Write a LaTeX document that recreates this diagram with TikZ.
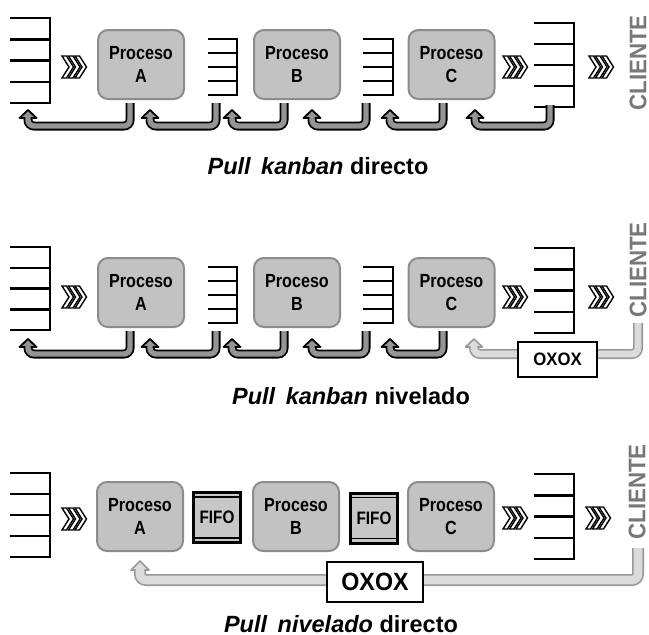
\documentclass[tikz,border=0pt]{standalone}
\usepackage{fontspec}
\setmainfont{Liberation Sans}
\newfontfamily\narrowA[FakeStretch=0.85]{Liberation Sans}
\newfontfamily\narrowB[FakeStretch=0.93]{Liberation Sans}
\definecolor{procfill}{gray}{0.76}
\definecolor{procline}{gray}{0.55}
\definecolor{tubedark}{gray}{0.58}
\definecolor{tubelight}{gray}{0.86}
\definecolor{tubelightline}{gray}{0.6}
\definecolor{fifofill}{gray}{0.78}
\definecolor{clientecol}{gray}{0.47}
\newcommand{\stock}[4]{%
  \draw[stockline] (#1,#3) -- (#2,#3) -- (#2,#4) -- (#1,#4);
  \foreach \k in {1,2,3} \draw[stockline] (#1,{#3+\k*(#4-#3)/4}) -- (#2,{#3+\k*(#4-#3)/4});
}
\newcommand{\chev}[2]{%
  \foreach \i in {0,1,2}
    \draw[chevstyle] ({#1-12+6.5*\i},{#2-11}) -- ({#1-7.5+6.5*\i},{#2-11}) -- ({#1-0.5+6.5*\i},#2)
      -- ({#1-7.5+6.5*\i},{#2+11}) -- ({#1-12+6.5*\i},{#2+11}) -- ({#1-5+6.5*\i},#2) -- cycle;
}
\newcommand{\tube}[8]{%
  \draw[#1out] (#2,#3) -- (#2,#4) -- (#5,#4) -- (#5,{#6+#8});
  \draw[#1head] (#5,#6) -- ({#5+#7},{#6+#8}) -- ({#5-#7},{#6+#8}) -- cycle;
  \draw[#1in] (#2,#3) -- (#2,#4) -- (#5,#4) -- (#5,{#6+#8-1.6});
}
\begin{document}
\begin{tikzpicture}[x=1pt,y=-1pt,
  proc/.style={draw=procline, line width=2pt, fill=procfill, rounded corners=10pt,
    minimum width=86pt, minimum height=69pt, align=center, inner sep=0pt,
    font=\narrowA\fontsize{19}{23}\selectfont\bfseries},
  stockline/.style={line width=2.5pt, draw=black},
  chevstyle/.style={draw=black, fill=white, line width=1.4pt, line join=miter},
  dkout/.style={draw=black, line width=9pt, rounded corners=6pt},
  dkin/.style={draw=tubedark, line width=5.4pt, rounded corners=6pt},
  dkhead/.style={draw=black, fill=tubedark, line width=1.8pt, line join=round},
  ltout/.style={draw=tubelightline, line width=10pt, rounded corners=6pt},
  ltin/.style={draw=tubelight, line width=6.8pt, rounded corners=6pt},
  lthead/.style={draw=tubelightline, fill=tubelight, line width=1.6pt, line join=round},
  Ltout/.style={draw=tubelightline, line width=12pt, rounded corners=6pt},
  Ltin/.style={draw=tubelight, line width=8.6pt, rounded corners=6pt},
  Lthead/.style={draw=tubelightline, fill=tubelight, line width=1.7pt, line join=round},
  cliente/.style={rotate=90, text=clientecol, font=\narrowB\fontsize{24}{24}\selectfont\bfseries, inner sep=0pt},
  caption/.style={font=\fontsize{23.5}{23.5}\selectfont\bfseries, inner sep=0pt},
  fifo/.style={draw=black, line width=3pt, fill=fifofill, minimum width=47pt, minimum height=50pt,
    inner sep=0pt, font=\narrowA\fontsize{18}{18}\selectfont\bfseries},
  oxox/.style={draw=black, line width=1.2pt, fill=white, inner sep=0pt}
]
\useasboundingbox (0,0) rectangle (649,635);

% ---------------- Row 1 ----------------
\stock{10}{50}{18}{103}
\stock{208}{237}{39}{95}
\stock{363}{393}{39}{95}
\stock{534}{574}{23}{107}
\chev{74}{67}
\chev{515}{67}
\chev{601}{67}
\node[proc] (pA1) at (141,64.5) {Proceso\\A};
\node[proc] (pB1) at (297,64.5) {Proceso\\B};
\node[proc] (pC1) at (451.5,64.5) {Proceso\\C};
\node[cliente] (cl1) at (638,63) {CLIENTE};
\tube{dk}{130}{103}{126}{28}{110}{8.5}{8}
\tube{dk}{216}{103}{126}{150}{110}{8.5}{8}
\tube{dk}{284}{103}{126}{232}{110}{8.5}{8}
\tube{dk}{366}{103}{126}{312}{110}{8.5}{8}
\tube{dk}{443}{103}{126}{390}{110}{8.5}{8}
\tube{dk}{550}{105}{126}{475}{110}{8.5}{8}
\node[caption] (cap1) at (318,166) {\itshape Pull\hspace{0.45em}kanban\upshape\ directo};

% ---------------- Row 2 ----------------
\stock{10}{50}{247}{330}
\stock{208}{237}{267}{323}
\stock{363}{393}{267}{323}
\stock{534}{574}{248}{333}
\chev{74}{297}
\chev{515}{297}
\chev{601}{297}
\node[proc] (pA2) at (141,292.5) {Proceso\\A};
\node[proc] (pB2) at (297,292.5) {Proceso\\B};
\node[proc] (pC2) at (451.5,292.5) {Proceso\\C};
\node[cliente] (cl2) at (638,270) {CLIENTE};
\tube{dk}{130}{331}{354}{28}{339}{8.5}{8}
\tube{dk}{216}{331}{354}{150}{339}{8.5}{8}
\tube{dk}{284}{331}{354}{232}{339}{8.5}{8}
\tube{dk}{366}{331}{354}{312}{339}{8.5}{8}
\tube{dk}{443}{331}{354}{390}{339}{8.5}{8}
\tube{lt}{638}{323}{354}{474}{339}{8.5}{8}
\node[oxox, minimum width=79pt, minimum height=35pt, font=\narrowB\fontsize{18}{18}\selectfont\bfseries] (ox2) at (557.5,359.5) {OXOX};
\node[caption] (cap2) at (351,396) {\itshape Pull\hspace{0.45em}kanban\upshape\ nivelado};

% ---------------- Row 3 ----------------
\stock{10}{50}{473}{557}
\stock{534}{574}{474}{559}
\chev{74}{519}
\chev{515}{518}
\chev{598}{518}
\node[proc] (pA3) at (140,516.5) {Proceso\\A};
\node[proc] (pB3) at (296,516.5) {Proceso\\B};
\node[proc] (pC3) at (451,516.5) {Proceso\\C};
\node[fifo] (f1) at (217,517.5) {FIFO};
\node[fifo] (f2) at (374,518) {FIFO};
\foreach \f in {f1,f2} {
  \draw[line width=1.6pt] ([yshift=-6pt]\f.north west) -- ([yshift=-6pt]\f.north east);
  \draw[line width=1.6pt] ([yshift=6pt]\f.south west) -- ([yshift=6pt]\f.south east);
}
\node[cliente] (cl3) at (637,492) {CLIENTE};
\tube{Lt}{638}{548}{580}{140}{561}{9}{9}
\node[oxox, minimum width=96pt, minimum height=40pt, font=\narrowB\fontsize{25}{25}\selectfont\bfseries] (ox3) at (375,582) {OXOX};
\node[caption] (cap3) at (341,624) {\itshape Pull\hspace{0.45em}nivelado\upshape\ directo};
\end{tikzpicture}
\end{document}
